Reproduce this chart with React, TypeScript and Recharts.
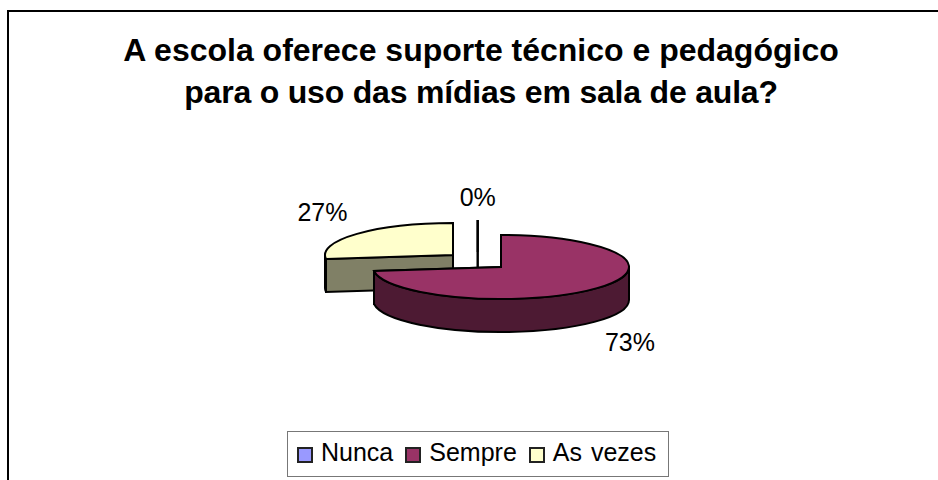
import { PieChart, Pie, Legend } from "recharts";

const categories = ["Nunca", "Sempre", "As vezes"];
const shares = [0, 73, 27];
const topColors = ["#9999ff", "#993366", "#ffffcc"];
const sideColors = ["#4d4d80", "#4d1a33", "#808066"];
// painter's order: the big slice has to go over the exploded one,
// so the pie runs counter-clockwise from 12 o'clock in this order
const drawOrder = [0, 2, 1];

const FONT = '"Liberation Sans", Arial, sans-serif';

// the pie is faked 3D: flat sectors from recharts, squashed and extruded in the shape
const RX = 128;
const RY = 32;
const DEPTH = 33;
// exploded slices, in px from the pie centre
const explode = [
  { dx: 24.7, dy: -3 },
  { dx: 48, dy: 12 },
  { dx: 0, dy: 0 },
];
const labelOffset = [
  { dx: 24.7, dy: -58 },
  { dx: 177, dy: 87 },
  { dx: -130.5, dy: -43 },
];

const data = drawOrder.map((i) => ({
  name: categories[i],
  value: shares[i],
  fill: topColors[i],
}));

const rad = (a: number) => (a * Math.PI) / 180;

function Slice3D(props: any) {
  const { cx, cy, fill, name } = props;
  const idx = categories.indexOf(name);
  const startAngle = Math.max(props.startAngle, props.endAngle) - 360;
  const endAngle = Math.min(props.startAngle, props.endAngle) - 360;
  const x0 = cx + explode[idx].dx;
  const y0 = cy + explode[idx].dy;
  const pt = (a: number) => [
    x0 + RX * Math.cos(rad(a)),
    y0 - RY * Math.sin(rad(a)),
  ];
  const side = sideColors[idx];
  const [sx, sy] = pt(startAngle);
  const [ex, ey] = pt(endAngle);
  const large = startAngle - endAngle > 180 ? 1 : 0;

  const faces = [startAngle, endAngle].map((a) => {
    const [x, y] = pt(a);
    return `M${x0},${y0} L${x},${y} L${x},${y + DEPTH} L${x0},${y0 + DEPTH} Z`;
  });

  // outer wall only shows on the front half of the rim
  const hi = Math.min(startAngle, 0);
  const lo = Math.max(endAngle, -180);
  let wall = "";
  if (hi > lo) {
    const [ax, ay] = pt(hi);
    const [bx, by] = pt(lo);
    wall = `M${ax},${ay} A${RX},${RY} 0 0 1 ${bx},${by} L${bx},${by + DEPTH} A${RX},${RY} 0 0 0 ${ax},${ay + DEPTH} Z`;
  }

  return (
    <g>
      {faces.map((d, i) => (
        <path key={i} d={d} fill={side} stroke="#000" strokeWidth={2} />
      ))}
      {wall && <path d={wall} fill={side} stroke="#000" strokeWidth={2} />}
      <path
        d={`M${x0},${y0} L${sx},${sy} A${RX},${RY} 0 ${large} 1 ${ex},${ey} Z`}
        fill={fill}
        stroke="#000"
        strokeWidth={2}
      />
    </g>
  );
}

function PctLabel({ cx, cy, name, percent }: any) {
  const off = labelOffset[categories.indexOf(name)];
  return (
    <text
      x={cx + off.dx}
      y={cy + off.dy}
      textAnchor="middle"
      dominantBaseline="central"
      fontFamily={FONT}
      fontSize={25}
      fill="#000"
    >
      {`${Math.round(percent * 100)}%`}
    </text>
  );
}

function LegendBox({ payload }: any) {
  const items = categories.map((c) => (payload ?? []).find((p: any) => p.value === c)).filter(Boolean);
  return (
    <div
      style={{
        display: "flex",
        alignItems: "center",
        height: "100%",
        boxSizing: "border-box",
        border: "1.5px solid #777",
        paddingLeft: 9,
        fontFamily: FONT,
        fontSize: 25,
        wordSpacing: 2,
        whiteSpace: "nowrap",
        color: "#000",
      }}
    >
      {items.map((p: any) => (
        <div key={p.value} style={{ display: "flex", flexShrink: 0, alignItems: "center", marginRight: 12, marginTop: -4 }}>
          <span
            style={{
              width: 12,
              height: 12,
              border: "2px solid #222",
              background: p.color,
              marginRight: 8,
              marginTop: 6,
            }}
          />
          {p.value}
        </div>
      ))}
    </div>
  );
}

export default function App() {
  return (
    <div style={{ position: "absolute", left: 0, top: 0, width: 938, height: 480, overflow: "hidden", background: "#fff" }}>
      <div
        style={{
          position: "absolute",
          left: 7,
          top: 10,
          right: 0,
          bottom: 0,
          borderTop: "2px solid #000",
          borderLeft: "2px solid #000",
        }}
      />
      <div
        style={{
          position: "absolute",
          left: 0,
          top: 29,
          width: 962,
          textAlign: "center",
          fontFamily: FONT,
          fontWeight: 700,
          fontSize: 32,
          lineHeight: "42px",
          color: "#000",
        }}
      >
        A escola oferece suporte técnico e pedagógico
        <br />
        <span style={{ letterSpacing: -0.2 }}>para o uso das mídias em sala de aula?</span>
      </div>
      <PieChart
        width={938}
        height={480}
        margin={{ top: 0, right: 0, bottom: 0, left: 0 }}
        style={{ position: "absolute", left: 0, top: 0 }}
      >
        <Pie
          data={data}
          dataKey="value"
          nameKey="name"
          cx={453}
          cy={255}
          outerRadius={RX}
          startAngle={90}
          endAngle={450}
          stroke="#000"
          shape={Slice3D}
          label={PctLabel}
          labelLine={false}
          isAnimationActive={false}
        />
        <Legend
          content={LegendBox}
          itemSorter={null}
          wrapperStyle={{ position: "absolute", left: 287, top: 431, width: 382, height: 46, bottom: "auto" }}
        />
      </PieChart>
    </div>
  );
}
